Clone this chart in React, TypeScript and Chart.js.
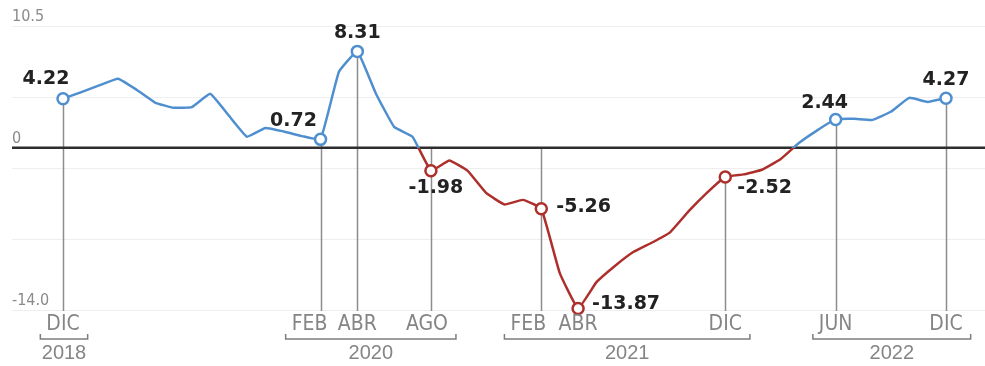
import React, { useEffect, useRef } from "react";
import { Chart, registerables } from "chart.js";

Chart.register(...registerables);

// Monthly values, Dec 2018 .. Dec 2022 (49 months)
const monthLabels: string[] = [
  "Dic 2018",
  "Ene 2019", "Feb 2019", "Mar 2019", "Abr 2019", "May 2019", "Jun 2019",
  "Jul 2019", "Ago 2019", "Sep 2019", "Oct 2019", "Nov 2019", "Dic 2019",
  "Ene 2020", "Feb 2020", "Mar 2020", "Abr 2020", "May 2020", "Jun 2020",
  "Jul 2020", "Ago 2020", "Sep 2020", "Oct 2020", "Nov 2020", "Dic 2020",
  "Ene 2021", "Feb 2021", "Mar 2021", "Abr 2021", "May 2021", "Jun 2021",
  "Jul 2021", "Ago 2021", "Sep 2021", "Oct 2021", "Nov 2021", "Dic 2021",
  "Ene 2022", "Feb 2022", "Mar 2022", "Abr 2022", "May 2022", "Jun 2022",
  "Jul 2022", "Ago 2022", "Sep 2022", "Oct 2022", "Nov 2022", "Dic 2022",
];

const values: number[] = [
  4.22,
  4.8, 5.4, 5.95, 5.0, 3.9, 3.45,
  3.5, 4.65, 2.8, 0.95, 1.7, 1.4,
  1.0, 0.72, 6.55, 8.31, 4.7, 1.8,
  0.95, -1.98, -1.1, -2.0, -3.9, -4.9,
  -4.5, -5.26, -10.8, -13.87, -11.6, -10.2,
  -9.0, -8.2, -7.3, -5.5, -3.9, -2.52,
  -2.3, -1.9, -1.0, 0.4, 1.5, 2.44,
  2.5, 2.4, 3.1, 4.3, 3.95, 4.27,
];

// Highlighted months (index into values) and their axis labels
const tickIndices: number[] = [0, 14, 16, 20, 26, 28, 36, 42, 48];
const tickLabels: string[] = ["DIC", "FEB", "ABR", "AGO", "FEB", "ABR", "DIC", "JUN", "DIC"];
const tickYears: string[] = ["2018", "2020", "2020", "2020", "2021", "2021", "2021", "2022", "2022"];
const years: string[] = ["2018", "2020", "2021", "2022"];

// Y axis
const yMin = -14;
const yMax = 10.5;
const yTickValues: number[] = [10.5, 0, -14];
const yTickLabels: string[] = ["10.5", "0", "-14.0"];

// ---- styling / placement (not data) ----
const BLUE = "#4f8fcf";
const RED = "#ad2f2b";
const labelPlacement = [
  { dx: -17, dy: -20, align: "center" },
  { dx: -27, dy: -18, align: "center" },
  { dx: 0, dy: -18, align: "center" },
  { dx: 5, dy: 17, align: "center" },
  { dx: 15, dy: -2, align: "left" },
  { dx: 14, dy: -4, align: "left" },
  { dx: 12, dy: 11, align: "left" },
  { dx: -11, dy: -16, align: "center" },
  { dx: 0, dy: -18, align: "center" },
];
const tickLabelShift = [0, -11, 0, -4, -13, 0, 0, 0, 0];
const vlineFromZero = [false, false, false, true, true, null, false, false, false];

const fmt = (v: number) => v.toFixed(2);

const setNarrow = (ctx: any, on: boolean) => {
  try {
    ctx.fontStretch = on ? "condensed" : "normal";
  } catch (e) {
    /* ignore */
  }
};

const overlay = {
  id: "overlay",
  beforeDatasetsDraw(chart: any) {
    const { ctx, scales } = chart;
    const x = scales.x;
    const y = scales.y;
    const W = chart.width;
    ctx.save();
    // faint grid
    ctx.strokeStyle = "#eeeeee";
    ctx.lineWidth = 1;
    for (let k = 0; k <= 4; k++) {
      const v = yMax - ((yMax - yMin) * k) / 4;
      const py = Math.round(y.getPixelForValue(v)) + 0.5;
      ctx.beginPath();
      ctx.moveTo(12, py);
      ctx.lineTo(W, py);
      ctx.stroke();
    }
    // y labels
    ctx.fillStyle = "#8a8a8a";
    ctx.font = '16px "DejaVu Sans", sans-serif';
    setNarrow(ctx, true);
    ctx.textAlign = "left";
    ctx.textBaseline = "alphabetic";
    yTickValues.forEach((v, i) => {
      const py = y.getPixelForValue(v);
      ctx.fillText(yTickLabels[i], 12, py - 5);
    });
    setNarrow(ctx, false);
    // vertical lines
    const bottom = y.getPixelForValue(yMin) + 1;
    ctx.strokeStyle = "#8c8c8c";
    ctx.lineWidth = 1.5;
    tickIndices.forEach((idx, i) => {
      const mode = vlineFromZero[i];
      if (mode === null) return;
      const px = Math.round(x.getPixelForValue(idx)) + 0.5;
      const top = mode ? y.getPixelForValue(0) : y.getPixelForValue(values[idx]);
      ctx.beginPath();
      ctx.moveTo(px, top);
      ctx.lineTo(px, bottom);
      ctx.stroke();
    });
    // zero line
    const y0 = y.getPixelForValue(0);
    ctx.strokeStyle = "#2e2e2e";
    ctx.lineWidth = 2.5;
    ctx.beginPath();
    ctx.moveTo(12, y0);
    ctx.lineTo(W, y0);
    ctx.stroke();
    ctx.restore();
  },
  afterDatasetsDraw(chart: any) {
    const { ctx, scales } = chart;
    const x = scales.x;
    const y = scales.y;
    ctx.save();
    // value labels
    ctx.fillStyle = "#222222";
    ctx.font = 'bold 19px "DejaVu Sans", Verdana, sans-serif';
    ctx.textBaseline = "middle";
    tickIndices.forEach((idx, i) => {
      const p = labelPlacement[i];
      const px = x.getPixelForValue(idx);
      const py = y.getPixelForValue(values[idx]);
      ctx.textAlign = p.align;
      ctx.fillText(fmt(values[idx]), px + p.dx, py + p.dy);
    });
    // month labels
    ctx.fillStyle = "#858585";
    ctx.font = '21px "DejaVu Sans", sans-serif';
    setNarrow(ctx, true);
    ctx.textAlign = "center";
    ctx.textBaseline = "middle";
    const extents: Record<string, [number, number]> = {};
    tickIndices.forEach((idx, i) => {
      const cx = x.getPixelForValue(idx) + tickLabelShift[i];
      ctx.fillText(tickLabels[i], cx, 325);
      const w = ctx.measureText(tickLabels[i]).width;
      const yr = tickYears[i];
      const l = cx - w / 2;
      const r = cx + w / 2;
      if (!extents[yr]) extents[yr] = [l, r];
      else extents[yr] = [Math.min(extents[yr][0], l), Math.max(extents[yr][1], r)];
    });
    setNarrow(ctx, false);
    // brackets and years
    ctx.strokeStyle = "#7d7d7d";
    ctx.lineWidth = 1.5;
    ctx.font = '20px "Liberation Sans", Arial, sans-serif';
    years.forEach((yr) => {
      const e = extents[yr];
      if (!e) return;
      const l = e[0] - 6;
      const r = e[1] + 8;
      ctx.beginPath();
      ctx.moveTo(l, 334);
      ctx.lineTo(l, 339);
      ctx.lineTo(r, 339);
      ctx.lineTo(r, 334);
      ctx.stroke();
      ctx.fillText(yr, (l + r) / 2, 353);
    });
    ctx.restore();
  },
};

export default function App() {
  const ref = useRef<HTMLCanvasElement | null>(null);
  useEffect(() => {
    document.body.style.margin = "0";
    const canvas = ref.current;
    if (!canvas) return;
    const highlighted = new Set(tickIndices);
    const chart = new Chart(canvas, {
      type: "line",
      data: {
        labels: monthLabels,
        datasets: [
          {
            data: values.map((v, i) => ({ x: i, y: v })),
            borderWidth: 2.5,
            tension: 0.1,
            clip: false as any,
            borderColor: (c: any) => {
              const ch = c.chart;
              const area = ch.chartArea;
              if (!area) return BLUE;
              const y0 = ch.scales.y.getPixelForValue(0);
              const g = ch.ctx.createLinearGradient(0, area.top, 0, area.bottom);
              const f = Math.min(1, Math.max(0, (y0 - area.top) / (area.bottom - area.top)));
              g.addColorStop(0, BLUE);
              g.addColorStop(f, BLUE);
              g.addColorStop(f, RED);
              g.addColorStop(1, RED);
              return g;
            },
            pointRadius: values.map((_, i) => (highlighted.has(i) ? 5.5 : 0)),
            pointHoverRadius: 0,
            pointBackgroundColor: "#ffffff",
            pointBorderColor: values.map((v) => (v >= 0 ? BLUE : RED)),
            pointBorderWidth: 2.5,
          },
        ],
      },
      options: {
        animation: false,
        responsive: false,
        devicePixelRatio: 1,
        layout: { padding: { left: 63, right: 39, top: 26, bottom: 56 } },
        plugins: { legend: { display: false }, tooltip: { enabled: false } },
        events: [],
        scales: {
          x: { type: "linear", min: 0, max: 48, display: false },
          y: { type: "linear", min: yMin, max: yMax, display: false },
        },
      },
      plugins: [overlay],
    });
    return () => chart.destroy();
  }, []);
  return (
    <div style={{ position: "absolute", left: 0, top: 0, width: 985, height: 366, background: "#fff" }}>
      <canvas ref={ref} width={985} height={366} style={{ width: 985, height: 366 }} />
    </div>
  );
}
